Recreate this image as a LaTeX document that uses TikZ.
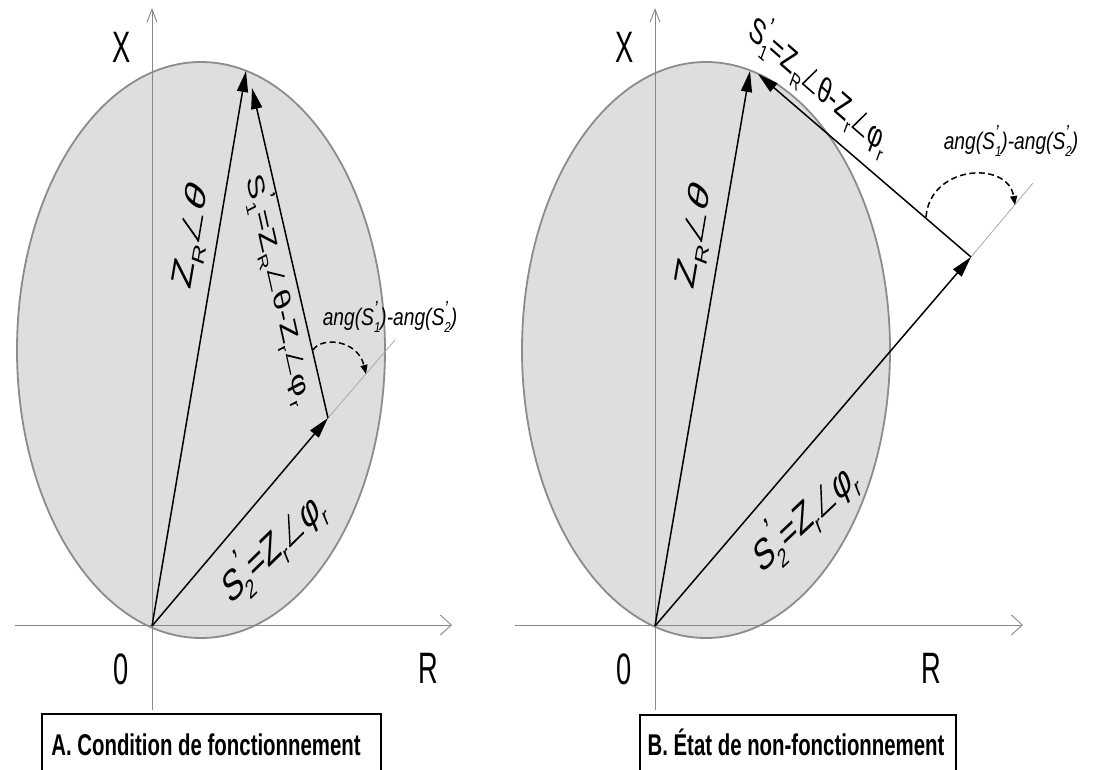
\documentclass[tikz,border=0pt]{standalone}
\usepackage{fontspec}
\setmainfont{Liberation Sans}
\usepackage{graphicx}
\usetikzlibrary{arrows.meta}
\definecolor{fillgray}{RGB}{222,222,222}
\definecolor{ellgray}{RGB}{140,140,140}
\definecolor{axgray}{RGB}{135,135,135}
\definecolor{extgray}{RGB}{170,170,170}
\newcommand\subs[1]{\raisebox{-0.28em}{\scalebox{0.6}{#1}}}
\newcommand\sups[1]{\raisebox{0.42em}{\scalebox{0.85}{#1}}}
\newcommand\supsub[2]{\rlap{\sups{#1}}\subs{#2}}
\newcommand\angsym{\mbox{\kern0.06em\rlap{\rotatebox[origin=bl]{62}{\rule{0.74em}{0.05em}}}\rule{0.6em}{0.05em}\kern0.08em}}
\begin{document}
\begin{tikzpicture}[x=1pt,y=-1pt,
  ell/.style={draw=ellgray, fill=fillgray, line width=1.8pt},
  axis/.style={draw=axgray, line width=0.9pt},
  vaxis/.style={axis, -{Straight Barb[length=13pt,width=10pt]}},
  haxis/.style={axis, -{Straight Barb[length=11pt,width=20pt]}},
  vec/.style={line width=1.5pt, -{Triangle[length=21pt,width=11pt]}},
  ext/.style={draw=extgray, line width=0.8pt},
  turn/.style={line width=1.5pt, dash pattern=on 6pt off 3.5pt, -{Triangle[length=9pt,width=7pt]}},
  axlab/.style={font=\fontsize{44}{44}\selectfont, xscale=0.62, anchor=base, inner sep=0pt},
  veclab/.style={inner sep=0pt},
  anglab/.style={font=\fontsize{24}{24}\selectfont\itshape, xscale=0.8, inner sep=0pt},
  capbox/.style={draw=black, line width=1.3pt},
  captxt/.style={font=\fontsize{30}{30}\selectfont\bfseries, xscale=0.68, anchor=base, inner sep=0pt}
]
\fill[white] (0,0) rectangle (1093,769);
\useasboundingbox (0,0) rectangle (1093,769);

% ---------------- Panel A ----------------
\coordinate (OA) at (152,626);
\coordinate (ZA) at (246,71);
\coordinate (S2A) at (328,418);
\coordinate (S1A) at (252,88);
\coordinate (EA) at (395,340);
\coordinate (VtA) at (152,8);
\coordinate (VbA) at (152,710);
\coordinate (HlA) at (15,625);
\coordinate (HrA) at (452,625);
\coordinate (TsA) at (313,350);
\coordinate (TeA) at (366,374);

\draw[ell] (201,350) ellipse [x radius=184, y radius=288];
\draw[vaxis] (VbA) -- (VtA);
\draw[haxis] (HlA) -- (HrA);
\draw[ext] (S2A) -- (EA);
\draw[vec] (OA) -- (ZA);
\draw[vec] (OA) -- (S2A);
\draw[vec] (S2A) -- (S1A);
\draw[turn] (TsA) .. controls (322,336) and (358,340) .. (TeA);

\node[veclab, font=\fontsize{45}{45}\selectfont, xscale=0.65, rotate=75.4] (lzA) at (193,237) {Z\subs{R}\angsym{\itshape θ}};
\node[veclab, font=\fontsize{36}{36}\selectfont, xscale=0.65, rotate=-71] (l1A) at (280,289) {S\supsub{’}{1}=Z\subs{R}\angsym θ-Z\subs{r}\angsym φ\subs{r}};
\node[veclab, font=\fontsize{44}{44}\selectfont, xscale=0.65, rotate=32.5] (l2A) at (273,545) {S\supsub{’}{2}=Z\subs{r}\angsym φ\subs{r}};
\node[anglab] (laA) at (390,317) {ang(S\supsub{’}{1})-ang(S\supsub{’}{2})};

\node[axlab] (xA) at (122,62) {X};
\node[axlab] (oA) at (121,684) {0};
\node[axlab] (rA) at (428,683) {R};

\draw[capbox] (42,771) -- (42,714) -- (381,714) -- (381,771);
\node[captxt] (cA) at (206,755) {A. Condition de fonctionnement};

% ---------------- Panel B ----------------
\coordinate (OB) at (655,626);
\coordinate (ZB) at (750,71);
\coordinate (S2B) at (971,257);
\coordinate (S1B) at (758,74);
\coordinate (EB) at (1033,183);
\coordinate (VtB) at (655,8);
\coordinate (VbB) at (655,710);
\coordinate (HlB) at (515,625);
\coordinate (HrB) at (1023,625);
\coordinate (TsB) at (926,217);
\coordinate (TeB) at (1015,205);

\draw[ell] (706,350) ellipse [x radius=184, y radius=288];
\draw[vaxis] (VbB) -- (VtB);
\draw[haxis] (HlB) -- (HrB);
\draw[ext] (S2B) -- (EB);
\draw[vec] (OB) -- (ZB);
\draw[vec] (OB) -- (S2B);
\draw[vec] (S2B) -- (S1B);
\draw[turn] (TsB) .. controls (930,165) and (1008,160) .. (TeB);

\node[veclab, font=\fontsize{45}{45}\selectfont, xscale=0.65, rotate=75.4] (lzB) at (696,237) {Z\subs{R}\angsym{\itshape θ}};
\node[veclab, font=\fontsize{36}{36}\selectfont, xscale=0.65, rotate=-29.5] (l1B) at (819,84) {S\supsub{’}{1}=Z\subs{R}\angsym θ-Z\subs{r}\angsym φ\subs{r}};
\node[veclab, font=\fontsize{44}{44}\selectfont, xscale=0.65, rotate=31.5] (l2B) at (805,515) {S\supsub{’}{2}=Z\subs{r}\angsym φ\subs{r}};
\node[anglab] (laB) at (1011,141) {ang(S\supsub{’}{1})-ang(S\supsub{’}{2})};

\node[axlab] (xB) at (625,62) {X};
\node[axlab] (oB) at (624,684) {0};
\node[axlab] (rB) at (931,683) {R};

\draw[capbox] (640,771) -- (640,715) -- (956,715) -- (956,771);
\node[captxt] (cB) at (796,755) {B. État de non-fonctionnement};
\end{tikzpicture}
\end{document}
